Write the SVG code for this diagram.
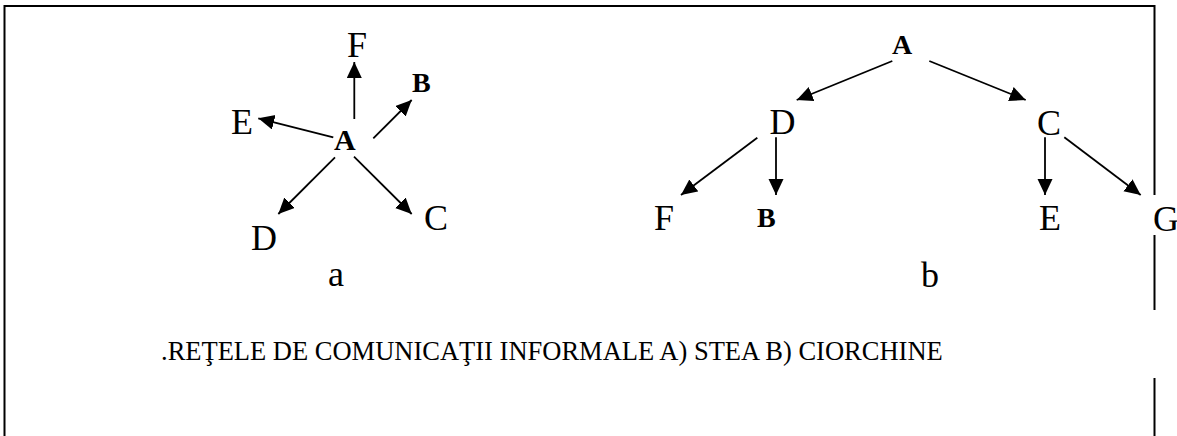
<svg xmlns="http://www.w3.org/2000/svg" width="1177" height="436" viewBox="0 0 1177 436">
  <style>
    .lbl { font-family: "Liberation Serif", "Times New Roman", serif; font-size: 36px; fill: #000; }
    .bold { font-weight: bold; }
    .cap { font-family: "Liberation Serif", "Times New Roman", serif; font-size: 26.5px; fill: #000; }
    .edge { stroke: #000; stroke-width: 1.8; fill: none; marker-end: url(#arrow); }
    .frame { stroke: #000; stroke-width: 2; fill: none; }
  </style>
  <defs>
    <marker id="arrow" markerUnits="userSpaceOnUse" markerWidth="17" markerHeight="16" refX="16" refY="7.5" orient="auto" viewBox="0 0 17 16">
      <path d="M0,0 L16,7.5 L0,15 z" fill="#000"/>
    </marker>
  </defs>
  <rect width="1177" height="436" fill="#fff"/>

  <!-- page frame, right edge broken around G and the caption -->
  <g id="frame">
    <polyline class="frame" points="4.5,436 4.5,6 1154.5,6 1154.5,195"/>
    <line class="frame" x1="1154.5" y1="235" x2="1154.5" y2="310"/>
    <line class="frame" x1="1154.5" y1="378" x2="1154.5" y2="436"/>
  </g>

  <g id="connectors">
    <!-- star network -->
    <line class="edge" x1="354.3" y1="119" x2="354.3" y2="62"/>
    <line class="edge" x1="373.3" y1="138.3" x2="411.7" y2="100"/>
    <line class="edge" x1="333.3" y1="137.3" x2="258.3" y2="118.3"/>
    <line class="edge" x1="335" y1="157.3" x2="278.3" y2="214"/>
    <line class="edge" x1="354" y1="156.7" x2="411.7" y2="214"/>
    <!-- cluster network -->
    <line class="edge" x1="892.3" y1="61" x2="796.7" y2="100"/>
    <line class="edge" x1="929.3" y1="61" x2="1025.7" y2="100"/>
    <line class="edge" x1="757.3" y1="137.7" x2="681" y2="195"/>
    <line class="edge" x1="776" y1="137.3" x2="776" y2="195"/>
    <line class="edge" x1="1045" y1="137.3" x2="1045" y2="195"/>
    <line class="edge" x1="1064.3" y1="137.3" x2="1140.7" y2="195"/>
  </g>

  <!-- star network nodes -->
  <g id="star-A"><text class="lbl bold" style="font-size:30px" x="334" y="150">A</text></g>
  <g id="star-F"><text class="lbl" x="347" y="57">F</text></g>
  <g id="star-B"><text class="lbl bold" style="font-size:28px" x="412" y="92">B</text></g>
  <g id="star-E"><text class="lbl" x="231" y="134">E</text></g>
  <g id="star-D"><text class="lbl" x="251" y="250">D</text></g>
  <g id="star-C"><text class="lbl" x="424" y="230">C</text></g>
  <g id="label-a"><text class="lbl" x="328" y="286">a</text></g>

  <!-- cluster network nodes -->
  <g id="tree-A"><text class="lbl bold" style="font-size:28px" x="892" y="53.5">A</text></g>
  <g id="tree-D"><text class="lbl" x="769.5" y="134.3">D</text></g>
  <g id="tree-C"><text class="lbl" x="1037" y="134.5">C</text></g>
  <g id="tree-F"><text class="lbl" x="654" y="230">F</text></g>
  <g id="tree-B"><text class="lbl bold" style="font-size:28px" x="757" y="226.7">B</text></g>
  <g id="tree-E"><text class="lbl" x="1039" y="230">E</text></g>
  <g id="tree-G"><text class="lbl" x="1153" y="230.5">G</text></g>
  <g id="label-b"><text class="lbl" x="921" y="286.5">b</text></g>

  <g id="caption"><text class="cap" x="161" y="360">.REŢELE DE COMUNICAŢII INFORMALE A) STEA B) CIORCHINE</text></g>
</svg>
